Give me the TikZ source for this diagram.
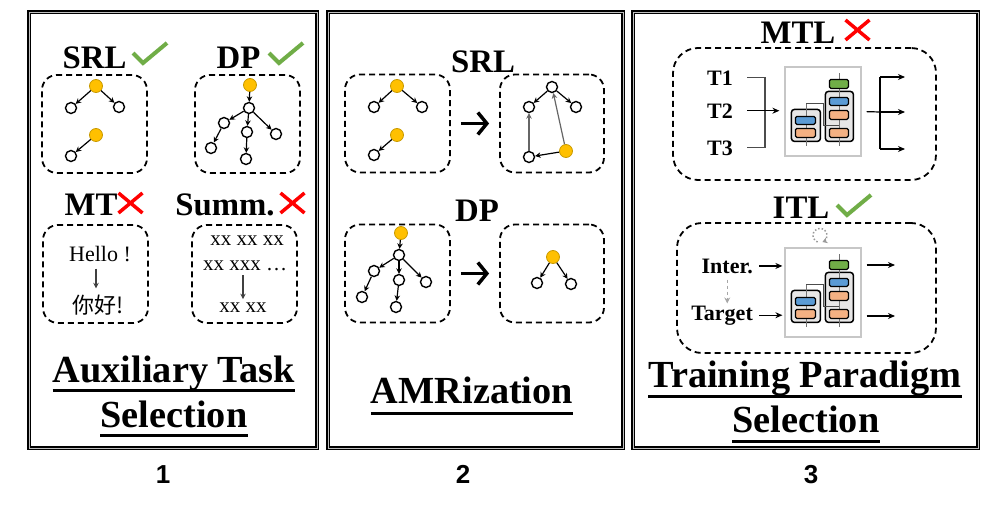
\documentclass[tikz,border=0pt]{standalone}
\usepackage{fontspec}
\setmainfont{Liberation Serif}
\newfontfamily\numfont{Liberation Sans}
\newfontfamily\cjkfont{Noto Sans CJK SC}
\usetikzlibrary{arrows.meta,positioning,calc}

\definecolor{nodeorange}{HTML}{FFC000}
\definecolor{nodeedge}{HTML}{C99A00}
\definecolor{okgreen}{HTML}{70AD47}
\definecolor{nored}{HTML}{FF0000}
\definecolor{layerblue}{HTML}{5B9BD5}
\definecolor{layerorange}{HTML}{F4B183}
\definecolor{layergreen}{HTML}{70AD47}
\definecolor{stackgray}{HTML}{E7E6E6}

\begin{document}
\begin{tikzpicture}[
  x=1pt, y=-1pt,
  panel/.style={draw, double=black!25, double distance=1pt, line width=1.1pt,
                minimum width=#1, minimum height=436pt, inner sep=0pt},
  dbox/.style={draw, line width=1.8pt, dash pattern=on 6pt off 4pt,
               rounded corners=15pt, minimum width=105pt, minimum height=98pt, inner sep=0pt},
  lab/.style={font=\fontsize{32.8}{36}\selectfont\bfseries, inner sep=0pt, anchor=base},
  ttl/.style={font=\fontsize{38.3}{42}\selectfont\bfseries, inner sep=0pt, anchor=base},
  uline/.style={line width=3pt},
  num/.style={font=\numfont\fontsize{26}{28}\selectfont\bfseries, inner sep=0pt, anchor=base},
  small/.style={font=\fontsize{22}{24}\selectfont, inner sep=0pt, anchor=base},
  tlab/.style={font=\fontsize{22}{24}\selectfont\bfseries, inner sep=0pt, anchor=base east},
  wnode/.style={circle, draw, line width=1.4pt, fill=white, minimum size=11pt, inner sep=0pt},
  onode/.style={circle, draw=nodeedge, line width=0.8pt, fill=nodeorange, minimum size=13pt, inner sep=0pt},
  tarr/.style={-{Stealth[length=5.5pt,width=5.5pt]}, line width=1.2pt},
  garr/.style={tarr, draw=black!60},
  bigarr/.style={-{Straight Barb[length=9pt,width=22pt]}, line width=3.5pt,
                 shorten <=10pt, shorten >=10pt},
  arr/.style={-{Stealth[length=7pt,width=6pt]}, line width=1.2pt},
  gline/.style={line width=1.2pt, draw=black!70},
  mfr/.style={draw=black!22, line width=1.2pt, fill=white, minimum width=76pt,
              minimum height=89pt, inner sep=0pt},
  okmark/.pic={\draw[okgreen, line width=4pt] (-10,-10) -- (0,0) -- (24,-20);},
  nomark/.pic={\draw[nored, line width=3.5pt] (-12,-10) -- (12,10) (-12,10) -- (12,-10);},
  modelicon/.pic={
    \draw[line width=1.5pt, fill=stackgray, rounded corners=3pt] (7,43) rectangle (36,75);
    \draw[line width=1.5pt, fill=stackgray, rounded corners=3pt] (41,25) rectangle (69,75);
    \draw[black!55, line width=1pt] (22,38) -- (22,80) (55,7) -- (55,80);
    \draw[black!70, line width=0.9pt] (22,37) -- (39,37) -- (39,59) -- (55,59);
    \draw[line width=1.2pt, fill=layerblue, rounded corners=1.5pt] (11,50) rectangle (31,58);
    \draw[line width=1.2pt, fill=layerorange, rounded corners=1.5pt] (11,62) rectangle (31,71);
    \draw[line width=1.2pt, fill=layergreen, rounded corners=1.5pt] (45,13) rectangle (64,22);
    \draw[line width=1.2pt, fill=layerblue, rounded corners=1.5pt] (45,31) rectangle (64,39);
    \draw[line width=1.2pt, fill=layerorange, rounded corners=1.5pt] (45,44) rectangle (64,53);
    \draw[line width=1.2pt, fill=layerorange, rounded corners=1.5pt] (45,62) rectangle (64,71);
  }
]
\useasboundingbox (0,0) rectangle (997,506);

% ---------------- three panels ----------------
\node[panel=288pt] (p1) at (173,230) {};
\node[panel=295pt] (p2) at (475.5,230) {};
\node[panel=345pt] (p3) at (805.5,230) {};

\node[num] (n1) at (163,483) {1};
\node[num] (n2) at (463,483) {2};
\node[num] (n3) at (811,483) {3};

% ---------------- panel 1: auxiliary tasks ----------------
\node[lab] (srl1) at (94.5,68) {SRL};
\pic at (143,63) {okmark};
\node[lab] (dp1) at (238.5,68) {DP};
\pic at (279,63) {okmark};
\node[lab] (mt1) at (91,215) {MT};
\pic at (130.5,203) {nomark};
\node[lab] (summ1) at (225,215) {Summ.};
\pic at (292.5,203) {nomark};

\node[dbox] (srlbox) at (94.5,124) {};
\node[dbox] (dpbox) at (247.5,124) {};
\node[dbox] (mtbox) at (95.5,274) {};
\node[dbox] (summbox) at (244.5,274) {};

\node[onode] (a1r) at (96,86) {};
\node[wnode] (a1a) at (71,108) {};
\node[wnode] (a1b) at (119,107) {};
\node[onode] (a2r) at (96,135) {};
\node[wnode] (a2a) at (71,156) {};
\foreach \s/\t in {a1r/a1a, a1r/a1b, a2r/a2a}
  \draw[tarr] (\s) -- (\t);

\node[onode] (d1r) at (250,85) {};
\node[wnode] (d1a) at (249,108) {};
\node[wnode] (d1b) at (224,123) {};
\node[wnode] (d1c) at (247,132) {};
\node[wnode] (d1d) at (276,134) {};
\node[wnode] (d1e) at (211,148) {};
\node[wnode] (d1f) at (246,159) {};
\foreach \s/\t in {d1r/d1a, d1a/d1b, d1a/d1c, d1a/d1d, d1b/d1e, d1c/d1f}
  \draw[tarr] (\s) -- (\t);

\node[small] (hello) at (100,261) {Hello !};
\node[small, font=\cjkfont\fontsize{22}{24}\selectfont] (nihao) at (98,313) {你好!};
\draw[tarr, black!75, shorten <=7pt, shorten >=6pt] ([xshift=-4pt]hello.south) -- ([xshift=-4pt]hello.south |- nihao.north);

\node[small, font=\fontsize{21}{24}\selectfont] (xx1) at (247,245) {xx xx xx};
\node[small, font=\fontsize{21}{24}\selectfont] (xx2) at (245,270) {xx xxx …};
\node[small, font=\fontsize{21}{24}\selectfont] (xx3) at (243,312) {xx xx};
\draw[tarr, black!75, shorten <=5pt, shorten >=3pt] (xx3.north |- xx2.south) -- (xx3.north);

\node[ttl] (aux1) at (174,382) {Auxiliary Task};
\node[ttl] (sel1) at (174,427) {Selection};

% ---------------- panel 2: AMRization ----------------
\node[lab] (srl2) at (483,72) {SRL};
\node[lab] (dp2) at (477,221) {DP};

\node[dbox] (srcsrl) at (397.5,123.5) {};
\node[dbox, minimum width=104pt] (tgtsrl) at (552,123.5) {};
\node[dbox] (srcdp) at (397.5,273.5) {};
\node[dbox, minimum width=104pt] (tgtdp) at (552,273.5) {};
\draw[bigarr] (srcsrl) -- (tgtsrl);
\draw[bigarr] (srcdp) -- (tgtdp);

\node[onode] (b1r) at (397,86) {};
\node[wnode] (b1a) at (374,107) {};
\node[wnode] (b1b) at (422,107) {};
\node[onode] (b2r) at (397,135) {};
\node[wnode] (b2a) at (374,155) {};
\foreach \s/\t in {b1r/b1a, b1r/b1b, b2r/b2a}
  \draw[tarr] (\s) -- (\t);

\node[wnode] (c0) at (552,87) {};
\node[wnode] (cl) at (529,107) {};
\node[wnode] (cr) at (576,107) {};
\node[wnode] (cb) at (529,157) {};
\node[onode] (co) at (566,151) {};
\draw[tarr] (c0) -- (cl);
\draw[tarr] (c0) -- (cr);
\draw[tarr] (co) -- (cb);
\draw[garr] (co) -- (c0);
\draw[garr] (cb) -- (cl);

\node[onode] (er) at (401,233) {};
\node[wnode] (ea) at (399,255) {};
\node[wnode] (eb) at (374,271) {};
\node[wnode] (ec) at (399,280) {};
\node[wnode] (ed) at (426,282) {};
\node[wnode] (ee) at (362,297) {};
\node[wnode] (ef) at (396,307) {};
\foreach \s/\t in {er/ea, ea/eb, ea/ec, ea/ed, eb/ee, ec/ef}
  \draw[tarr] (\s) -- (\t);

\node[onode] (fr) at (553,257) {};
\node[wnode] (fa) at (537,283) {};
\node[wnode] (fb) at (571,284) {};
\draw[tarr] (fr) -- (fa);
\draw[tarr] (fr) -- (fb);

\node[ttl] (amr) at (472,403) {AMRization};

% ---------------- panel 3: training paradigm ----------------
\node[lab] (mtl) at (798,43) {MTL};
\pic at (857.5,30) {nomark};
\node[lab] (itl) at (801,218) {ITL};
\pic at (847,215) {okmark};

\node[dbox, minimum width=263pt, minimum height=132pt, rounded corners=25pt] (mtlbox) at (804.5,114) {};
\node[dbox, minimum width=259pt, minimum height=130pt, rounded corners=25pt] (itlbox) at (806.5,288) {};

% MTL: three tasks into one model
\node[mfr] (mtlmodel) at (823,111.5) {};
\pic at (mtlmodel.north west) {modelicon};
\node[tlab] (t1) at (733,85) {T1};
\node[tlab] (t2) at (733,118) {T2};
\node[tlab] (t3) at (733,155) {T3};
\coordinate (mtlj) at (765,112);
\draw[gline] ([xshift=14pt]t1.east) -| (mtlj) |- ([xshift=14pt]t3.east);
\draw[arr, shorten >=5pt] ([xshift=14pt]t2.east) -- (t2.east -| mtlmodel.west);
\coordinate (mtlk) at (880,112);
\coordinate (mtlo1) at (905,77);
\coordinate (mtlo2) at (905,112);
\coordinate (mtlo3) at (905,149);
\draw[line width=1.2pt, shorten <=5pt] (mtlmodel.east) -- (mtlk);
\draw[line width=1.2pt] (mtlk |- mtlo1) -- (mtlk |- mtlo3);
\foreach \o in {mtlo1, mtlo2, mtlo3}
  \draw[arr] (mtlk |- \o) -- (\o);

% ITL: intermediate task first, then target
\node[mfr] (itlmodel) at (823,292.5) {};
\pic at (itlmodel.north west) {modelicon};
\node[tlab] (inter) at (753,273) {Inter.};
\node[tlab] (target) at (753,320) {Target};
\draw[arr, shorten >=2pt] ([xshift=6pt]inter.east) -- (inter.east -| itlmodel.west);
\draw[arr, shorten >=2pt] ([xshift=6pt]target.east) -- (target.east -| itlmodel.west);
\draw[-{Stealth[length=6pt,width=6pt]}, black!35, line width=1.4pt, dashed,
      shorten <=6pt, shorten >=2pt] (inter.south) -- (inter.south |- target.north);
\draw[-{Stealth[length=5pt,width=6pt]}, black!40, line width=1.5pt, dotted]
  ([xshift=-5.4pt,yshift=5.4pt]itlmodel.north) arc[start angle=250, end angle=-70, radius=7pt];
\coordinate (itlo1) at (895,265);
\coordinate (itlo2) at (895,316);
\draw[arr, shorten <=5pt] (itlo1 -| itlmodel.east) -- (itlo1);
\draw[arr, shorten <=5pt] (itlo2 -| itlmodel.east) -- (itlo2);

\node[ttl] (trp) at (805,387) {Training Paradigm};
\node[ttl] (sel3) at (806,432) {Selection};

% underlined titles
\foreach \t/\d in {aux1/8, sel1/8, amr/10, trp/9, sel3/9}
  \draw[uline] ([yshift=-\d pt]\t.base west) -- ([yshift=-\d pt]\t.base east);

\end{tikzpicture}
\end{document}
